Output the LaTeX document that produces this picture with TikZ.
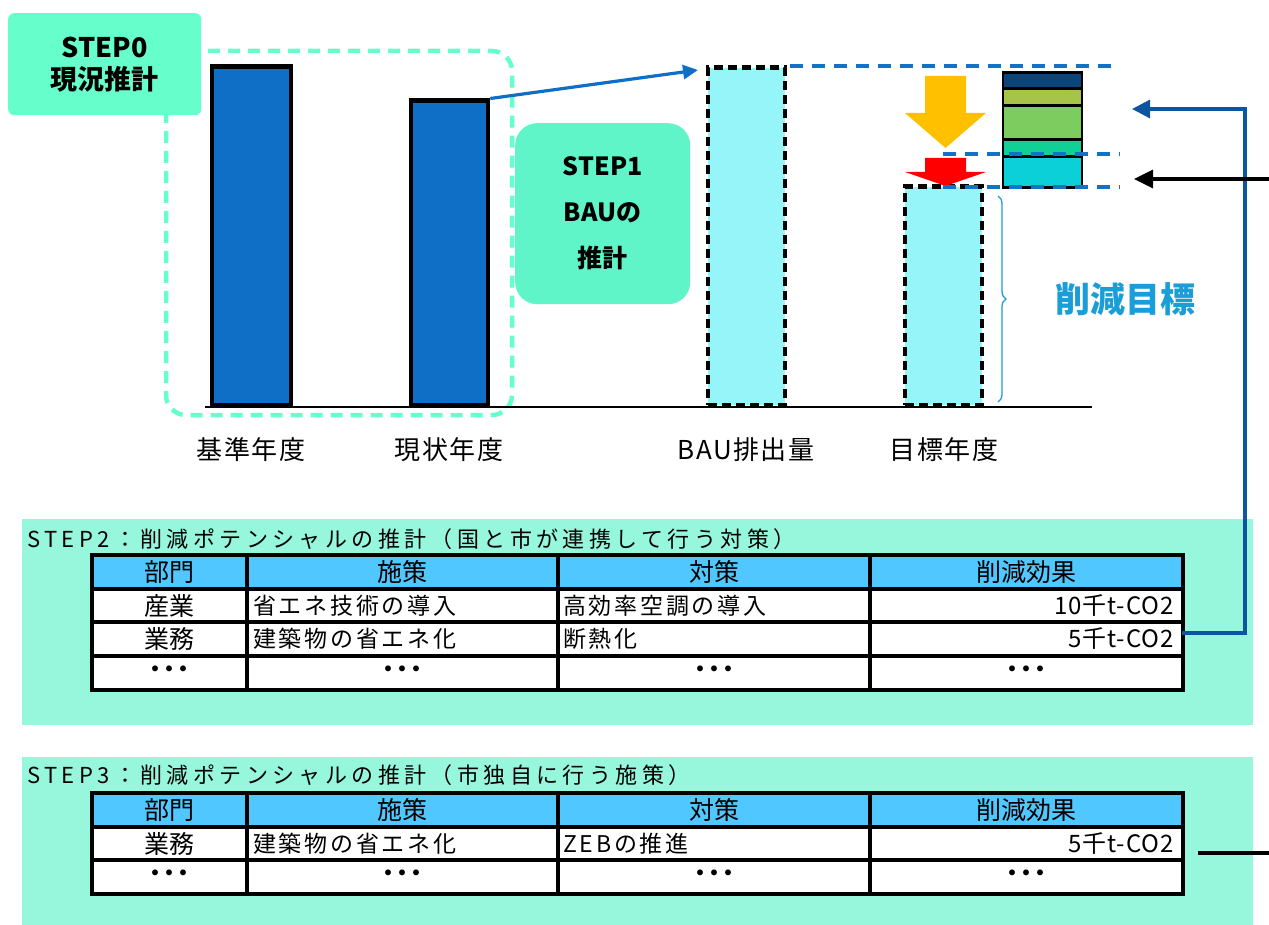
\documentclass[tikz,border=0pt]{standalone}
\usepackage{fontspec}
\setmainfont{Noto Sans CJK JP}
\usetikzlibrary{arrows.meta,decorations.pathreplacing,calc}
\definecolor{stepgreen}{HTML}{66FFCC}
\definecolor{step1green}{HTML}{60F5C8}
\definecolor{barblue}{HTML}{0F6FC6}
\definecolor{lightcyan}{HTML}{95F5F8}
\definecolor{dashblue}{HTML}{1272C8}
\definecolor{segnavy}{HTML}{0B447A}
\definecolor{segolive}{HTML}{A6C448}
\definecolor{seggreen}{HTML}{7CCC60}
\definecolor{segteal}{HTML}{10D096}
\definecolor{segcyan}{HTML}{0CD0D8}
\definecolor{arrowyellow}{HTML}{FFC000}
\definecolor{targetblue}{HTML}{1B9DD7}
\definecolor{linkblue}{HTML}{0E55A0}
\definecolor{tablebg}{HTML}{96F7DC}
\definecolor{headbg}{HTML}{50C8FF}
\tikzset{
  solidbar/.style={draw=black, fill=barblue, line width=4.5pt, inner sep=0pt, anchor=south},
  dashbar/.style={draw=black, fill=lightcyan, line width=4.5pt, dash pattern=on 9pt off 5pt, inner sep=0pt, anchor=south},
  seg/.style={draw=black, line width=2.8pt, inner sep=0pt, minimum width=79pt, anchor=north},
  bluedash/.style={draw=dashblue, line width=4.5pt, dash pattern=on 13pt off 9pt},
  xlabel/.style={font=\fontsize{26}{30}\selectfont\addfontfeature{LetterSpace=6}, inner sep=0pt},
  hdr/.style={font=\fontsize{25}{28}\selectfont, inner sep=0pt},
  cel/.style={font=\fontsize{23}{27}\selectfont\addfontfeature{LetterSpace=12}, inner sep=0pt},
  num/.style={font=\fontsize{24}{27}\selectfont\addfontfeature{LetterSpace=4}, inner sep=0pt},
  dots/.style={font=\fontsize{28}{27}\selectfont\bfseries, inner sep=0pt},
  ttl/.style={font=\fontsize{22}{26}\selectfont\addfontfeature{LetterSpace=20}, inner sep=0pt, anchor=west},
  grid/.style={line width=3.5pt, draw=black},
}
\begin{document}
\begin{tikzpicture}[x=1pt,y=-1pt]
\useasboundingbox (0,0) rectangle (1269,925);

% STEP0 dashed region
\draw[stepgreen, line width=4.5pt, dash pattern=on 12pt off 8pt, rounded corners=20pt] (166,51) rectangle (512,415);

% axis
\coordinate (axL) at (205,407);
\coordinate (axR) at (1092,407);
\draw[line width=2.2pt] (axL) -- (axR);

% bars
\node[solidbar, minimum width=79pt, minimum height=338pt] (b1) at (251.5,407) {};
\node[solidbar, minimum width=77pt, minimum height=304pt] (b2) at (449.5,407) {};
\node[dashbar, minimum width=77pt, minimum height=337pt] (bau) at (746.5,407) {};
\node[dashbar, minimum width=77pt, minimum height=218pt] (tgt) at (943.5,407) {};

% arrow current -> BAU
\coordinate (bautip) at (698,70);
\draw[barblue, line width=3.2pt, -{Triangle[length=15pt,width=14pt]}] (b2.north east) -- (bautip);

% STEP0 box
\node[fill=stepgreen, rounded corners=6pt, minimum width=193pt, minimum height=102pt, anchor=north west,
      align=center, font=\fontsize{27}{32}\selectfont\bfseries] (s0) at (8,13) {STEP0\\現況推計};

% STEP1 box
\node[fill=step1green, rounded corners=22pt, minimum width=175pt, minimum height=181pt, anchor=north west,
      align=center, font=\fontsize{25}{46}\selectfont\bfseries] (s1) at (515,123) {STEP1\\BAUの\\推計};

% stacked bar
\node[seg, fill=segnavy,  minimum height=16pt] (sA) at (1042.5,71) {};
\node[seg, fill=segolive, minimum height=17pt] (sB) at (1042.5,87) {};
\node[seg, fill=seggreen, minimum height=34pt] (sC) at (1042.5,104) {};
\node[seg, fill=segteal,  minimum height=17pt] (sD) at (1042.5,138) {};
\node[seg, fill=segcyan,  minimum height=31pt] (sE) at (1042.5,155) {};

% yellow and red arrows
\fill[arrowyellow] (925,76) -- (966,76) -- (966,113) -- (986,113) -- (945.5,148) -- (905,113) -- (925,113) -- cycle;
\fill[red] (925,158) -- (966,158) -- (966,172) -- (986,172) -- (945.5,186) -- (905,172) -- (925,172) -- cycle;

% dashed level lines
\coordinate (topL) at (790,66);
\coordinate (topR) at (1116,66);
\coordinate (midL) at (943,154);
\coordinate (midR) at (1120,154);
\coordinate (botL) at (943,187);
\coordinate (botR) at (1120,187);
\draw[bluedash] (topL) -- (topR);
\draw[bluedash] (midL) -- (midR);
\draw[bluedash] (botL) -- (botR);

% brace and target label
\draw[targetblue, line width=1.3pt, decorate, decoration={brace, amplitude=8pt}] (998,196) -- (998,402);
\node[font=\fontsize{35}{40}\selectfont\bfseries, text=targetblue, inner sep=0pt] (goal) at (1125,299) {削減目標};

% axis labels
\node[xlabel] (l1) at (251,450) {基準年度};
\node[xlabel] (l2) at (449,450) {現状年度};
\node[xlabel] (l3) at (746,450) {BAU排出量};
\node[xlabel] (l4) at (944,450) {目標年度};

% ---------- STEP2 table ----------
\fill[tablebg] (22,519) rectangle (1253,725);
\node[ttl] (t2title) at (27,539) {STEP2：削減ポテンシャルの推計（国と市が連携して行う対策）};
\fill[headbg] (92,555) rectangle (1183,589);
\fill[white] (92,589) rectangle (1183,690);
\draw[grid] (92,555) rectangle (1183,690);
\foreach \yy in {589,622,656} \draw[grid] (92,\yy) -- (1183,\yy);
\foreach \xx in {247,558,870} \draw[grid] (\xx,555) -- (\xx,690);
\node[hdr] (t2h1) at (169.5,572) {部門};
\node[hdr] (t2h2) at (402.5,572) {施策};
\node[hdr] (t2h3) at (714,572) {対策};
\node[hdr] (t2h4) at (1026.5,572) {削減効果};
\node[hdr] (t2a1) at (169.5,606) {産業};
\node[cel, anchor=west] (t2b1) at (253,606) {省エネ技術の導入};
\node[cel, anchor=west] (t2c1) at (563,606) {高効率空調の導入};
\node[num, anchor=east, inner xsep=8pt] (t2d1) at (1182,606) {10千t-CO2};
\node[hdr] (t2a2) at (169.5,639) {業務};
\node[cel, anchor=west] (t2b2) at (253,639) {建築物の省エネ化};
\node[cel, anchor=west] (t2c2) at (563,639) {断熱化};
\node[num, anchor=east, inner xsep=8pt] (t2d2) at (1182,639) {5千t-CO2};
\node[dots] (t2a3) at (169.5,673) {･･･};
\node[dots] (t2b3) at (402.5,673) {･･･};
\node[dots] (t2c3) at (714,673) {･･･};
\node[dots] (t2d3) at (1026.5,673) {･･･};

% ---------- STEP3 table ----------
\fill[tablebg] (22,757) rectangle (1253,925);
\node[ttl] (t3title) at (27,775) {STEP3：削減ポテンシャルの推計（市独自に行う施策）};
\fill[headbg] (92,793) rectangle (1183,827);
\fill[white] (92,827) rectangle (1183,894);
\draw[grid] (92,793) rectangle (1183,894);
\foreach \yy in {827,860} \draw[grid] (92,\yy) -- (1183,\yy);
\foreach \xx in {247,558,870} \draw[grid] (\xx,793) -- (\xx,894);
\node[hdr] (t3h1) at (169.5,810) {部門};
\node[hdr] (t3h2) at (402.5,810) {施策};
\node[hdr] (t3h3) at (714,810) {対策};
\node[hdr] (t3h4) at (1026.5,810) {削減効果};
\node[hdr] (t3a1) at (169.5,844) {業務};
\node[cel, anchor=west] (t3b1) at (253,844) {建築物の省エネ化};
\node[cel, anchor=west] (t3c1) at (563,844) {ZEBの推進};
\node[num, anchor=east, inner xsep=8pt] (t3d1) at (1182,844) {5千t-CO2};
\node[dots] (t3a2) at (169.5,877) {･･･};
\node[dots] (t3b2) at (402.5,877) {･･･};
\node[dots] (t3c2) at (714,877) {･･･};
\node[dots] (t3d2) at (1026.5,877) {･･･};

% ---------- connectors on the right ----------
\coordinate (blueTip) at (1132,109);
\coordinate (blueCorner) at (1245,109);
\draw[linkblue, line width=3.2pt, -{Triangle[length=18pt,width=18pt]}]
  ($(t2d2.east)+(0,-6)$) -| (blueCorner) -- (blueTip);
\coordinate (blackStart) at (1269,179);
\coordinate (blackTip) at (1134,179);
\draw[black, line width=3.2pt, -{Triangle[length=19pt,width=18pt]}] (blackStart) -- (blackTip);
\coordinate (lowStart) at (1198,853);
\coordinate (lowEnd) at (1269,853);
\draw[black, line width=3.2pt] (lowStart) -- (lowEnd);
\end{tikzpicture}
\end{document}
